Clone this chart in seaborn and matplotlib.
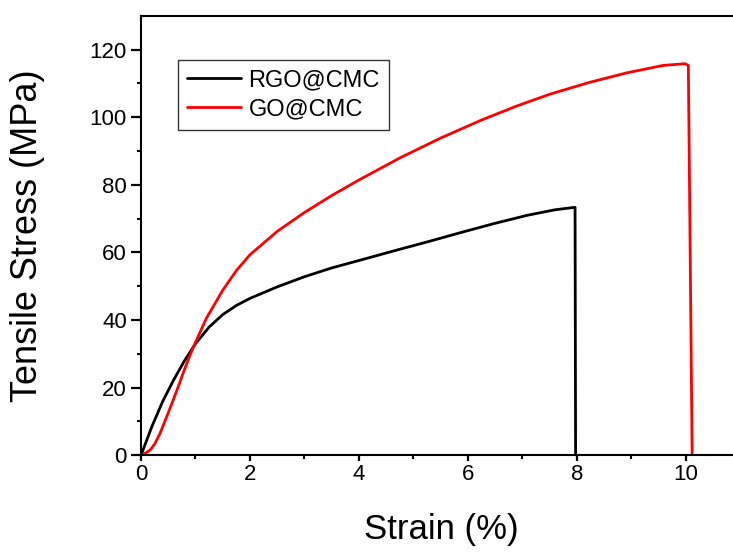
import numpy as np
import pandas as pd
import matplotlib
matplotlib.use("Agg")
import matplotlib.pyplot as plt
import seaborn as sns

# ---- data ----
rgo_strain = [0, 0.2, 0.4, 0.6, 0.8, 1.0, 1.25, 1.5, 1.75, 2.0, 2.5, 3.0,
              3.5, 4.0, 4.7, 5.3, 5.9, 6.5, 7.1, 7.6, 7.95, 7.97, 7.98]
rgo_stress = [0, 8.5, 16.0, 22.3, 28.0, 33.0, 37.9, 41.6, 44.3, 46.4, 49.8, 52.8,
              55.4, 57.6, 60.7, 63.3, 66.0, 68.6, 71.0, 72.6, 73.3, 73.3, 0]

go_strain = [0, 0.1, 0.17, 0.25, 0.35, 0.45, 0.59, 0.7, 0.78, 0.9, 1.0, 1.2, 1.5, 1.75,
             2.0, 2.5, 3.0, 3.5, 4.0, 4.76, 5.5, 6.26, 6.9, 7.51, 8.24, 8.92, 9.59,
             9.99, 10.05, 10.12]
go_stress = [0, 0.8, 1.6, 3.3, 6.5, 10.5, 16.3, 21.0, 24.6, 29.6, 33.4, 40.5, 48.8, 54.6,
             59.3, 66.2, 71.8, 76.8, 81.4, 88.0, 93.8, 99.2, 103.3, 106.8, 110.3, 113.1,
             115.3, 115.8, 115.3, 0]

series_names = ["RGO@CMC", "GO@CMC"]
series_colors = ["#000000", "#ff0000"]
x_ticks = [0, 2, 4, 6, 8, 10]
y_ticks = [0, 20, 40, 60, 80, 100, 120]
x_minor = [1, 3, 5, 7, 9]
y_minor = [10, 30, 50, 70, 90, 110]

sns.set_theme(style="ticks", rc={
    "text.color": "black", "axes.labelcolor": "black",
    "xtick.color": "black", "ytick.color": "black", "axes.edgecolor": "black",
})
plt.rcParams["font.family"] = ["Liberation Sans", "DejaVu Sans"]

fig = plt.figure(figsize=(7.33, 5.56), dpi=100)
W, H = 733, 556
left_px, right_px, top_px, bot_px = 141, 733, 15.7, 455.3
ax = fig.add_axes([left_px / W, 1 - bot_px / H, (right_px - left_px) / W, (bot_px - top_px) / H])

for name, col, xs, ys in zip(series_names, series_colors,
                             [rgo_strain, go_strain], [rgo_stress, go_stress]):
    sub = pd.DataFrame({"Strain": xs, "Stress": ys})
    sns.lineplot(data=sub, x="Strain", y="Stress", sort=False, estimator=None,
                 color=col, linewidth=2.0, ax=ax, label=name)

ax.set_xlim(0, 10.87)
ax.set_ylim(0, 130)
ax.set_xticks(x_ticks)
ax.set_yticks(y_ticks)
ax.set_xticks(x_minor, minor=True)
ax.set_yticks(y_minor, minor=True)

for s in ax.spines.values():
    s.set_linewidth(1.5)
ax.spines["right"].set_visible(False)

ax.xaxis.set_tick_params(which="major", direction="out", length=4.0, width=1.6,
                         labelsize=16, pad=2.5, color="black", bottom=True, top=False)
ax.xaxis.set_tick_params(which="minor", direction="out", length=3.0, width=1.5,
                         color="black", bottom=True, top=False)
ax.yaxis.set_tick_params(which="major", direction="out", length=7.2, width=1.6,
                         labelsize=16, pad=3.0, color="black", left=True, right=False)
ax.yaxis.set_tick_params(which="minor", direction="out", length=3.0, width=1.5,
                         color="black", left=True, right=False)

ax.set_xlabel("Strain (%)", fontsize=25)
ax.set_ylabel("Tensile Stress (MPa)", fontsize=26)
ax.xaxis.set_label_coords(0.508, -0.132)
ax.yaxis.set_label_coords(-0.163, 0.5)

leg = ax.legend(loc="upper left", bbox_to_anchor=(0.062, 0.899), borderaxespad=0,
                fontsize=17, frameon=True, fancybox=False, shadow=False,
                handlelength=2.3, handletextpad=0.3, labelspacing=0.3, borderpad=0.4)
leg.get_frame().set_edgecolor("#333333")
leg.get_frame().set_linewidth(1.0)
leg.get_frame().set_facecolor("white")
leg.get_frame().set_alpha(1)

fig.savefig("out.png", dpi=100)
